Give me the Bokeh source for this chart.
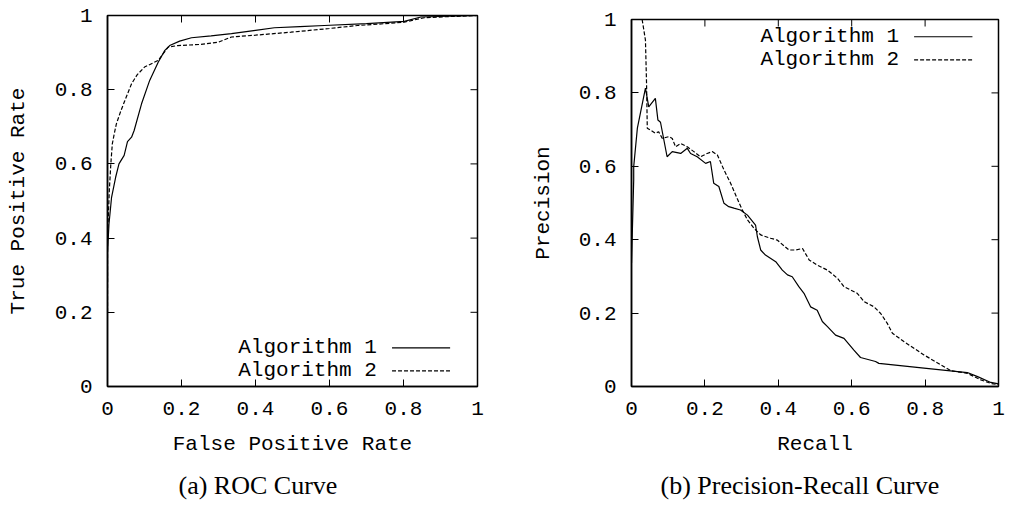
from bokeh.plotting import figure
from bokeh.layouts import row, column
from bokeh.models import FixedTicker, Label, Range1d, Spacer, Title
from bokeh.embed import file_html
from bokeh.resources import INLINE

# ---------------- data ----------------
roc_fpr_1 = [0, 0, 0.002, 0.004, 0.011, 0.022, 0.031, 0.045, 0.054, 0.065, 0.072, 0.092, 0.114,
             0.137, 0.155, 0.168, 0.195, 0.227, 0.28, 0.335, 0.40, 0.451, 0.52, 0.586, 0.70,
             0.802, 0.847, 0.92, 1.0]
roc_tpr_1 = [0.28, 0.36, 0.40, 0.438, 0.51, 0.564, 0.60, 0.623, 0.66, 0.672, 0.69, 0.762, 0.825,
             0.874, 0.906, 0.919, 0.931, 0.94, 0.945, 0.951, 0.96, 0.967, 0.97, 0.973, 0.978,
             0.984, 0.996, 0.998, 1.0]
roc_fpr_2 = [0, 0, 0.005, 0.009, 0.013, 0.018, 0.024, 0.035, 0.047, 0.065, 0.08, 0.10, 0.137,
             0.164, 0.19, 0.25, 0.299, 0.335, 0.40, 0.496, 0.60, 0.676, 0.75, 0.802, 0.856,
             0.92, 1.0]
roc_tpr_2 = [0.2, 0.40, 0.53, 0.60, 0.654, 0.68, 0.708, 0.74, 0.771, 0.816, 0.84, 0.861, 0.879,
             0.915, 0.919, 0.922, 0.928, 0.942, 0.947, 0.955, 0.965, 0.973, 0.978, 0.982, 0.994,
             0.997, 1.0]

pr_recall_1 = [0, 0.006, 0.006, 0.016, 0.038, 0.047, 0.065, 0.072, 0.079, 0.097, 0.111, 0.134,
               0.152, 0.161, 0.179, 0.202, 0.215, 0.224, 0.238, 0.252, 0.265, 0.279, 0.297,
               0.316, 0.338, 0.343, 0.352, 0.365, 0.393, 0.411, 0.425, 0.438, 0.456, 0.47,
               0.488, 0.506, 0.52, 0.534, 0.556, 0.579, 0.606, 0.624, 0.665, 0.674, 0.797,
               0.915, 0.943, 0.979, 1.0]
pr_precision_1 = [0.336, 0.563, 0.599, 0.704, 0.813, 0.762, 0.785, 0.726, 0.72, 0.626, 0.64,
                  0.635, 0.649, 0.635, 0.626, 0.608, 0.613, 0.554, 0.545, 0.499, 0.49, 0.486,
                  0.481, 0.467, 0.44, 0.408, 0.372, 0.358, 0.34, 0.317, 0.304, 0.299, 0.272,
                  0.254, 0.217, 0.208, 0.177, 0.163, 0.14, 0.131, 0.099, 0.079, 0.068, 0.063,
                  0.05, 0.038, 0.027, 0.011, 0.007]
pr_recall_2 = [0.029, 0.038, 0.041, 0.043, 0.065, 0.074, 0.084, 0.102, 0.111, 0.12, 0.134,
               0.152, 0.17, 0.188, 0.206, 0.22, 0.234, 0.252, 0.27, 0.288, 0.302, 0.316, 0.334,
               0.352, 0.379, 0.397, 0.429, 0.447, 0.466, 0.484, 0.506, 0.534, 0.561, 0.579,
               0.615, 0.634, 0.661, 0.679, 0.697, 0.711, 0.743, 0.797, 0.843, 0.87, 0.915,
               0.952, 0.98, 1.0]
pr_precision_2 = [1.0, 0.944, 0.826, 0.704, 0.69, 0.694, 0.676, 0.681, 0.676, 0.653, 0.662,
                  0.653, 0.64, 0.626, 0.635, 0.64, 0.631, 0.59, 0.554, 0.512, 0.481, 0.454,
                  0.431, 0.413, 0.404, 0.399, 0.372, 0.372, 0.376, 0.345, 0.331, 0.317, 0.295,
                  0.272, 0.254, 0.231, 0.217, 0.199, 0.172, 0.145, 0.122, 0.086, 0.059, 0.043,
                  0.036, 0.018, 0.008, 0.005]

tick_values = [0, 0.2, 0.4, 0.6, 0.8, 1]
tick_labels = ["0", "0.2", "0.4", "0.6", "0.8", "1"]
series_names = ["Algorithm 1", "Algorithm 2"]

MONO = "Liberation Mono"
SERIF = "Liberation Serif"
FS = "21px"
DASH = "4 2"
TICK_LEN = 7


def style_axis(ax, label_standoff, axis_label_standoff):
    ax.ticker = FixedTicker(ticks=tick_values)
    ax.major_label_overrides = {v: t for v, t in zip(tick_values, tick_labels)}
    ax.major_tick_in = TICK_LEN
    ax.major_tick_out = 0
    ax.minor_tick_line_color = None
    ax.major_tick_line_color = "black"
    ax.major_tick_line_width = 1
    ax.axis_line_color = "black"
    ax.axis_line_width = 1.5
    ax.major_label_text_font = MONO
    ax.major_label_text_color = "black"
    ax.major_label_text_font_size = FS
    ax.major_label_standoff = label_standoff
    ax.axis_label_text_font = MONO
    ax.axis_label_text_font_style = "normal"
    ax.axis_label_text_font_size = FS
    ax.axis_label_text_color = "black"
    ax.axis_label_standoff = axis_label_standoff


def make_fig(xlab, ylab, caption, cap_offset, frame_w, frame_h, b_left, b_right, b_top,
             xs1, ys1, xs2, ys2, leg_text_x, leg_line_x0, leg_line_x1, leg_y1, leg_y2,
             ylab_standoff):
    p = figure(frame_width=frame_w, frame_height=frame_h, output_backend="svg", title=None,
               toolbar_location=None, x_range=Range1d(0, 1), y_range=Range1d(0, 1),
               x_axis_label=xlab, y_axis_label=ylab,
               min_border_left=b_left, min_border_right=b_right, min_border_top=b_top,
               min_border_bottom=5)
    p.grid.visible = False
    p.outline_line_color = "black"
    p.outline_line_width = 1.5
    p.background_fill_color = "white"
    p.border_fill_color = "white"
    style_axis(p.xaxis[0], 15, 15)
    style_axis(p.yaxis[0], 15, ylab_standoff)

    # mirrored inward ticks on top and right (gnuplot style)
    n = len(tick_values)
    p.segment(x0=tick_values, y0=[1] * n, x1=tick_values, y1=[1 - TICK_LEN / frame_h] * n,
              line_color="black", line_width=1)
    p.segment(x0=[1] * n, y0=tick_values, x1=[1 - TICK_LEN / frame_w] * n, y1=tick_values,
              line_color="black", line_width=1)

    p.line(xs1, ys1, line_color="black", line_width=1.2)
    p.line(xs2, ys2, line_color="black", line_width=1.2, line_dash=DASH)

    # gnuplot-style key: text on the left, sample on the right
    for name, yy, dash in [(series_names[0], leg_y1, "solid"), (series_names[1], leg_y2, DASH)]:
        p.add_layout(Label(x=leg_text_x, y=yy, text=name, text_align="right",
                           text_baseline="middle", text_font=MONO, text_font_size=FS,
                           text_color="black"))
        p.line([leg_line_x0, leg_line_x1], [yy, yy], line_color="black", line_width=1.2,
               line_dash=dash)

    # sub-figure caption below the axis title
    p.add_layout(Title(text=caption, align="left", offset=cap_offset, text_font=SERIF,
                       text_font_size="26px", text_font_style="normal", text_color="black",
                       standoff=20), "below")
    return p


p1 = make_fig("False Positive Rate", "True Positive Rate", "(a) ROC Curve", 71,
              370, 371, 107, 30, 15,
              roc_fpr_1, roc_tpr_1, roc_fpr_2, roc_tpr_2,
              0.728, 0.769, 0.926, 0.104, 0.042, 22)
p2 = make_fig("Recall", "Precision", "(b) Precision-Recall Curve", 29,
              367, 367, 124, 10, 15,
              pr_recall_1, pr_precision_1, pr_recall_2, pr_precision_2,
              0.729, 0.77, 0.929, 0.953, 0.89, 21)

layout = row(p1, column(Spacer(height=4, width=10), p2))
open("out.html", "w").write(file_html(layout, INLINE))
